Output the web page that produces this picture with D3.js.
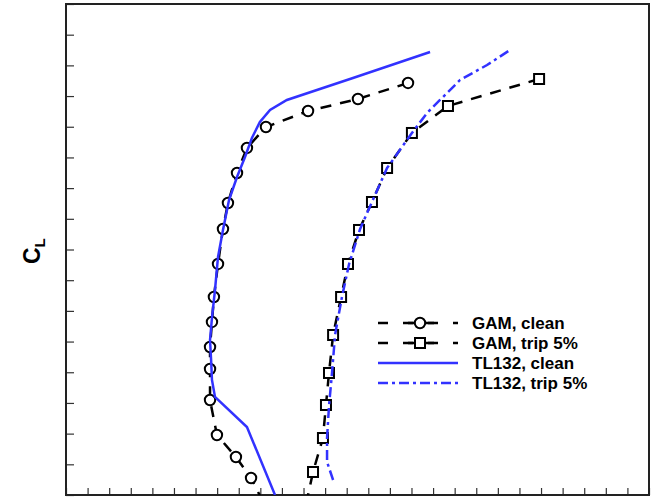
<!DOCTYPE html>
<html>
<head>
<meta charset="utf-8">
<script src="https://cdn.jsdelivr.net/npm/d3@7"></script>
<style>
  body { margin: 0; background: #fff; }
  svg { display: block; }
</style>
</head>
<body>
<div id="chart"></div>
<script>
// drag in counts (x), lift coefficient (y)
const gamCleanCd = [158.4, 135.2, 112.1, 92.6, 83.8, 79.2, 75.0, 72.7, 70.4, 68.5, 67.6, 66.7, 66.7, 66.7, 69.9, 78.7, 85.7, 90.8];
const gamCleanCl = [1.3426, 1.2904, 1.2513, 1.1992, 1.1308, 1.0493, 0.9515, 0.8668, 0.7528, 0.6452, 0.5638, 0.4823, 0.4106, 0.3096, 0.1955, 0.1238, 0.0554, -0.016];

const gamTripCd = [219.1, 176.9, 160.2, 148.7, 141.7, 135.7, 130.6, 127.4, 123.7, 121.8, 120.4, 119.0, 114.4, 111.6];
const gamTripCl = [1.3556, 1.2676, 1.1797, 1.0656, 0.9548, 0.8636, 0.7528, 0.6452, 0.5214, 0.3976, 0.2933, 0.1857, 0.0750, -0.0163];

const tlCleanCd = [96.8, 83.8, 69.0, 67.6, 67.2, 66.7, 67.6, 69.0, 70.4, 72.7, 75.5, 79.2, 82.9, 86.1, 89.8, 94.5, 102.3, 132.9, 168.6];
const tlCleanCl = [0, 0.2216, 0.3194, 0.3748, 0.4399, 0.5051, 0.5768, 0.6680, 0.7756, 0.8636, 0.9613, 1.0363, 1.1014, 1.1634, 1.2155, 1.2546, 1.2872, 1.3589, 1.4436];

const tlTripCd = [123.7, 120.9, 120.9, 121.8, 123.2, 124.6, 127.8, 131.1, 136.2, 141.7, 148.7, 160.2, 167.2, 173.2, 182.5, 195.0, 205.6];
const tlTripCl = [0.0489, 0.1075, 0.1857, 0.2900, 0.3976, 0.5214, 0.6452, 0.7528, 0.8668, 0.9548, 1.0656, 1.1797, 1.2448, 1.2872, 1.3524, 1.4012, 1.4501];

const legendLabels = ['GAM, clean', 'GAM, trip 5%', 'TL132, clean', 'TL132, trip 5%'];

const width = 656;
const height = 498;
const margin = { top: 4, right: 7, bottom: 3, left: 66 };
const innerW = width - margin.left - margin.right;
const innerH = height - margin.top - margin.bottom;

const blue = '#3232ff';

const svg = d3
  .select('#chart')
  .append('svg')
  .attr('width', width)
  .attr('height', height)
  .style('font-family', '"Liberation Sans", Arial, sans-serif');

const g = svg.append('g').attr('transform', `translate(${margin.left},${margin.top})`);

const xScale = d3.scaleLinear().domain([0, 270]).range([0, innerW]);
const yScale = d3.scaleLinear().domain([0, 1.6]).range([innerH, 0]);

svg
  .append('defs')
  .append('clipPath')
  .attr('id', 'clip')
  .append('rect')
  .attr('width', innerW)
  .attr('height', innerH);

// ticks, no labels
const xAxis = g
  .append('g')
  .attr('transform', `translate(0,${innerH})`)
  .call(d3.axisBottom(xScale).ticks(27).tickSize(-7).tickFormat(''));
const yAxis = g
  .append('g')
  .call(d3.axisLeft(yScale).ticks(16).tickSize(-8).tickFormat(''));
[xAxis, yAxis].forEach((a) => {
  a.select('.domain').remove();
  a.selectAll('.tick line').attr('stroke', '#333').attr('stroke-width', 1.2);
});

g.append('rect')
  .attr('width', innerW)
  .attr('height', innerH)
  .attr('fill', 'none')
  .attr('stroke', '#222')
  .attr('stroke-width', 2);

const zip = (xs, ys) => xs.map((x, i) => ({ x: x, y: ys[i] }));
const line = d3
  .line()
  .x((d) => xScale(d.x))
  .y((d) => yScale(d.y));

const plot = g.append('g').attr('clip-path', 'url(#clip)');

const gamClean = zip(gamCleanCd, gamCleanCl);
const gamTrip = zip(gamTripCd, gamTripCl);

plot
  .append('path')
  .datum(gamClean)
  .attr('d', line)
  .attr('fill', 'none')
  .attr('stroke', '#000')
  .attr('stroke-width', 2.5)
  .attr('stroke-dasharray', '11,9');

plot
  .append('path')
  .datum(gamTrip)
  .attr('d', line)
  .attr('fill', 'none')
  .attr('stroke', '#000')
  .attr('stroke-width', 2.5)
  .attr('stroke-dasharray', '11,9');

plot
  .selectAll('.circ')
  .data(gamClean.filter((d) => d.y >= 0))
  .enter()
  .append('circle')
  .attr('cx', (d) => xScale(d.x))
  .attr('cy', (d) => yScale(d.y))
  .attr('r', 5.2)
  .attr('fill', '#fff')
  .attr('stroke', '#000')
  .attr('stroke-width', 2);

plot
  .selectAll('.sq')
  .data(gamTrip.filter((d) => d.y >= 0))
  .enter()
  .append('rect')
  .attr('x', (d) => xScale(d.x) - 5)
  .attr('y', (d) => yScale(d.y) - 5)
  .attr('width', 10)
  .attr('height', 10)
  .attr('fill', '#fff')
  .attr('stroke', '#000')
  .attr('stroke-width', 2);

plot
  .append('path')
  .datum(zip(tlCleanCd, tlCleanCl))
  .attr('d', line)
  .attr('fill', 'none')
  .attr('stroke', blue)
  .attr('stroke-width', 2.5);

plot
  .append('path')
  .datum(zip(tlTripCd, tlTripCl))
  .attr('d', line)
  .attr('fill', 'none')
  .attr('stroke', blue)
  .attr('stroke-width', 2.5)
  .attr('stroke-dasharray', '10,4,3,4');

// y label C_L, rotated
const ylab = svg
  .append('text')
  .attr('transform', 'translate(40,264) rotate(-90)')
  .attr('font-weight', 'bold')
  .attr('fill', '#000');
ylab.append('tspan').attr('font-size', 23).text('C');
ylab.append('tspan').attr('font-size', 15).attr('dy', 5).text('L');

// legend
const legend = svg.append('g').attr('transform', 'translate(378,323)');
legendLabels.forEach((label, i) => {
  const row = legend.append('g').attr('transform', `translate(0,${i * 20})`);
  const l = row
    .append('line')
    .attr('x1', 0)
    .attr('x2', 80)
    .attr('stroke-width', 2.5);
  if (i < 2) {
    l.attr('stroke', '#000').attr('stroke-dasharray', '10,15');
    if (i == 0) {
      row.append('circle').attr('cx', 42).attr('r', 5.2);
    } else {
      row.append('rect').attr('x', 37).attr('y', -5).attr('width', 10).attr('height', 10);
    }
    row
      .selectAll('circle, rect')
      .attr('fill', '#fff')
      .attr('stroke', '#000')
      .attr('stroke-width', 2);
    row
      .insert('line', 'circle, rect')
      .attr('x1', 30)
      .attr('x2', 56)
      .attr('stroke', '#000')
      .attr('stroke-width', 2.5);
  } else {
    l.attr('stroke', blue);
    if (i == 3) l.attr('stroke-dasharray', '10,4,3,4');
  }
  row
    .append('text')
    .attr('x', 94)
    .attr('y', 6)
    .attr('font-size', 17)
    .attr('font-weight', 'bold')
    .attr('fill', '#000')
    .text(label);
});
</script>
</body>
</html>
